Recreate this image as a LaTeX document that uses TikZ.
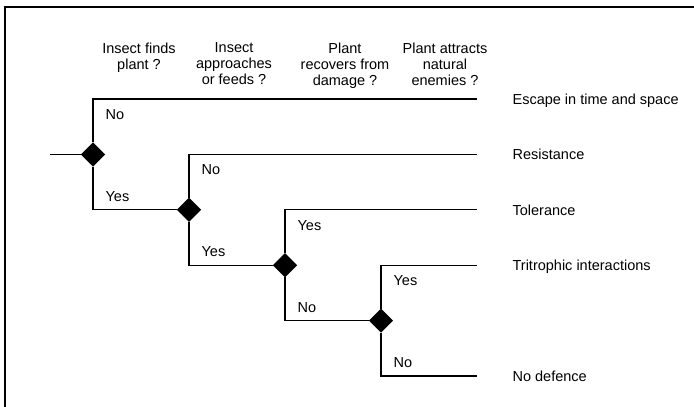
\documentclass[tikz,border=0pt]{standalone}
\usepackage{fontspec}
\setmainfont{Liberation Sans}
\usetikzlibrary{positioning,shapes.geometric}

\begin{document}
\begin{tikzpicture}[x=1pt, y=-1pt, line width=1.2pt,
  dec/.style = {draw, diamond, fill=black, inner sep=0pt, minimum width=23pt, minimum height=23pt},
  head/.style = {align=center, anchor=north, inner sep=0pt, font=\fontsize{14.5pt}{16pt}\selectfont},
  outcome/.style = {anchor=west, inner sep=0pt, text height=10.4pt, text depth=0pt, font=\fontsize{14.5pt}{16pt}\selectfont},
  lbl/.style = {outcome}]
    \useasboundingbox (0,0) rectangle (694,407);
    \draw[line width=1.3pt] (5,407) -- (5,7) -- (694,7);

    % questions
    \node[head] (q1) at (139,42) {Insect finds\\plant ?};
    \node[head] (q2) at (234,42) {Insect\\approaches\\or feeds ?};
    \node[head] (q3) at (345,42) {Plant\\recovers from\\damage ?};
    \node[head] (q4) at (445,42) {Plant attracts\\natural\\enemies ?};

    % decisions
    \node[dec] (d1) at (93,154.4) {};
    \node[dec, on grid, below right=55.4pt and 96pt of d1] (d2) {};
    \node[dec, on grid, below right=55.4pt and 96pt of d2] (d3) {};
    \node[dec, on grid, below right=55.4pt and 96pt of d3] (d4) {};

    \coordinate (in) at (50,154.4);
    \coordinate (e1) at (477,99);
    \coordinate (e2) at (477,154.4);
    \coordinate (e3) at (477,209.8);
    \coordinate (e4) at (477,265.2);
    \coordinate (e5) at (477,376);

    % outcomes
    \node[outcome, right=35pt of e1] (escape) {Escape in time and space};
    \node[outcome, right=35pt of e2] (resist) {Resistance};
    \node[outcome, right=35pt of e3] (toler) {Tolerance};
    \node[outcome, right=35pt of e4] (tritro) {Tritrophic interactions};
    \node[outcome, right=35pt of e5] (nodef) {No defence};

    \draw (in) -- (d1);
    \draw (d1) |- (e1);
    \draw (d1) |- (d2);
    \draw (d2) |- (e2);
    \draw (d2) |- (d3);
    \draw (d3) |- (e3);
    \draw (d3) |- (d4);
    \draw (d4) |- (e4);
    \draw (d4) |- (e5);

    % answers
    \node[lbl] (a1) at (105,114.5) {No};
    \node[lbl] (b1) at (105,196.3) {Yes};
    \node[lbl] (a2) at (201,169.4) {No};
    \node[lbl] (b2) at (201,251.7) {Yes};
    \node[lbl] (a3) at (297,224.8) {Yes};
    \node[lbl] (b3) at (297,307.1) {No};
    \node[lbl] (a4) at (393,280.2) {Yes};
    \node[lbl] (b4) at (393,362.5) {No};
\end{tikzpicture}
\end{document}
